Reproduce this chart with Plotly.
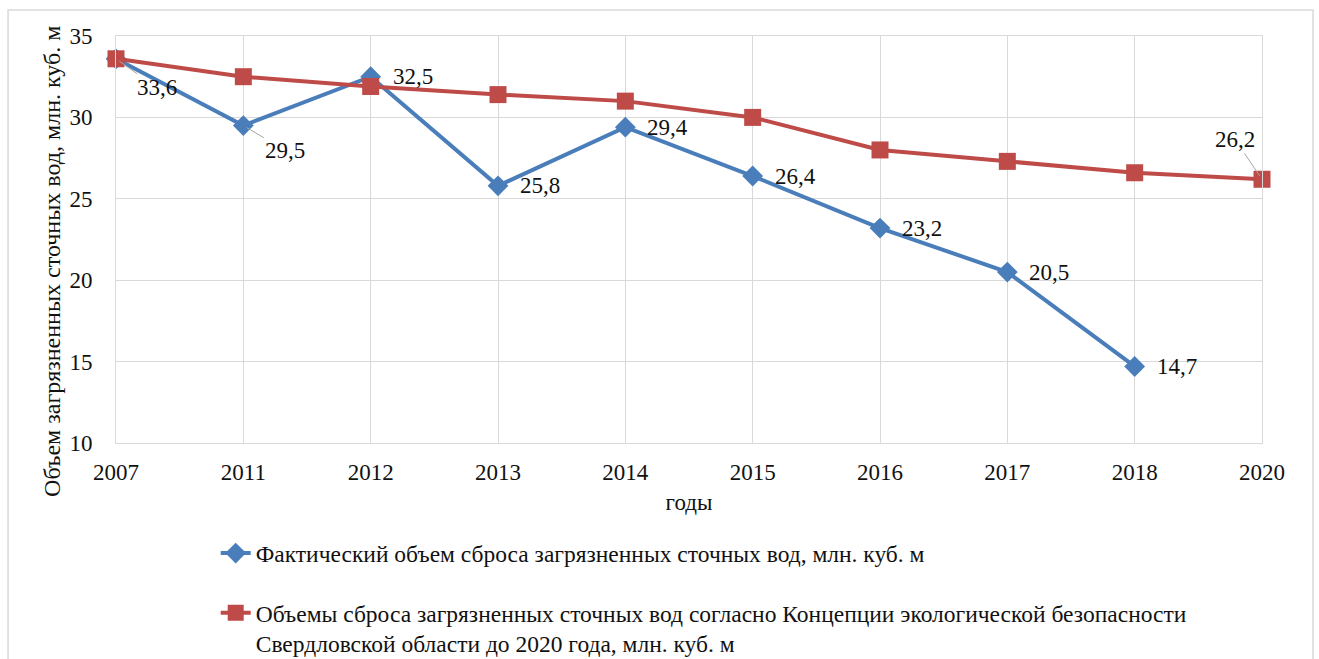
import plotly.graph_objects as go

years = ["2007", "2011", "2012", "2013", "2014", "2015", "2016", "2017", "2018", "2020"]
actual = [33.6, 29.5, 32.5, 25.8, 29.4, 26.4, 23.2, 20.5, 14.7, None]
planned = [33.6, 32.5, 31.9, 31.4, 31.0, 30.0, 28.0, 27.3, 26.6, 26.2]

actual_name = "Фактический объем сброса загрязненных сточных вод, млн. куб. м"
planned_name = ("Объемы сброса загрязненных сточных вод согласно Концепции экологической безопасности<br>"
                "Свердловской области до 2020 года, млн. куб. м")

FONT = "Liberation Serif"
BLUE = "#4a7ebb"
RED = "#be4b48"
GRID = "#d9d9d9"
INK = "#111"


def fmt(v):
    return f"{v:.1f}".replace(".", ",")


fig = go.Figure()
fig.add_trace(go.Scatter(
    x=years, y=actual, name=actual_name, mode="lines+markers",
    line=dict(color=BLUE, width=4),
    marker=dict(symbol="diamond", size=16, color=BLUE),
    legendgroup="a", cliponaxis=False,
))
fig.add_trace(go.Scatter(
    x=years, y=planned, name=planned_name, mode="lines+markers",
    line=dict(color=RED, width=4),
    marker=dict(symbol="square", size=17, color=RED),
    legendgroup="b", cliponaxis=False,
))

annotations = []
# data labels for the actual series; the first two use leader lines
leader = {0: (41, 29), 1: (42, 25)}
for i, v in enumerate(actual):
    if v is None:
        continue
    if i in leader:
        ax, ay = leader[i]
        annotations.append(dict(
            x=i, y=v, text=fmt(v), showarrow=True, ax=ax, ay=ay,
            arrowhead=0, arrowwidth=1, arrowcolor="#a6a6a6", standoff=4,
            font=dict(family=FONT, size=23, color=INK),
        ))
    else:
        annotations.append(dict(
            x=i, y=v, text=fmt(v), showarrow=False, xanchor="left",
            xshift=20, font=dict(family=FONT, size=23, color=INK),
        ))
# label for the last planned point
last = len(planned) - 1
annotations.append(dict(
    x=last, y=planned[last], text=fmt(planned[last]), showarrow=True,
    ax=-27, ay=-40, arrowhead=0, arrowwidth=1, arrowcolor="#a6a6a6", standoff=4,
    font=dict(family=FONT, size=23, color=INK),
))
# vertical axis title
annotations.append(dict(
    text="Объем загрязненных сточных вод, млн. куб. м",
    xref="paper", yref="paper", x=-0.0558, y=0.445, textangle=-90,
    xanchor="center", yanchor="middle",
    showarrow=False, font=dict(family=FONT, size=24, color=INK),
))

fig.update_layout(
    width=1319, height=659,
    margin=dict(l=116, r=57, t=36, b=216, autoexpand=False),
    paper_bgcolor="white", plot_bgcolor="white",
    font=dict(family=FONT, size=23, color=INK),
    showlegend=True,
    legend=dict(
        x=0.087, y=-0.217, xanchor="left", yanchor="top",
        orientation="v", tracegroupgap=26, valign="top",
        font=dict(family=FONT, size=23.5, color=INK),
        bgcolor="rgba(0,0,0,0)",
    ),
    annotations=annotations,
    shapes=[dict(
        type="rect", xref="paper", yref="paper",
        x0=-0.0942, x1=1.0445, y0=-0.56, y1=1.0639,
        line=dict(color=GRID, width=1.5), fillcolor="rgba(0,0,0,0)", layer="below",
    )],
)
fig.update_xaxes(
    type="category", range=[0, len(years) - 1],
    showgrid=True, gridcolor=GRID, gridwidth=1,
    showline=True, linecolor=GRID, mirror=True,
    ticks="", ticklabelstandoff=8,
    tickfont=dict(family=FONT, size=23, color=INK),
    title=dict(text="годы", font=dict(family=FONT, size=23, color=INK), standoff=10),
    zeroline=False,
)
fig.update_yaxes(
    range=[10, 35], dtick=5, tick0=10,
    showgrid=True, gridcolor=GRID, gridwidth=1,
    showline=True, linecolor=GRID, mirror=True,
    ticks="", ticklabelstandoff=18,
    tickfont=dict(family=FONT, size=23, color=INK),
    zeroline=False,
)

fig.write_html("out.html")
